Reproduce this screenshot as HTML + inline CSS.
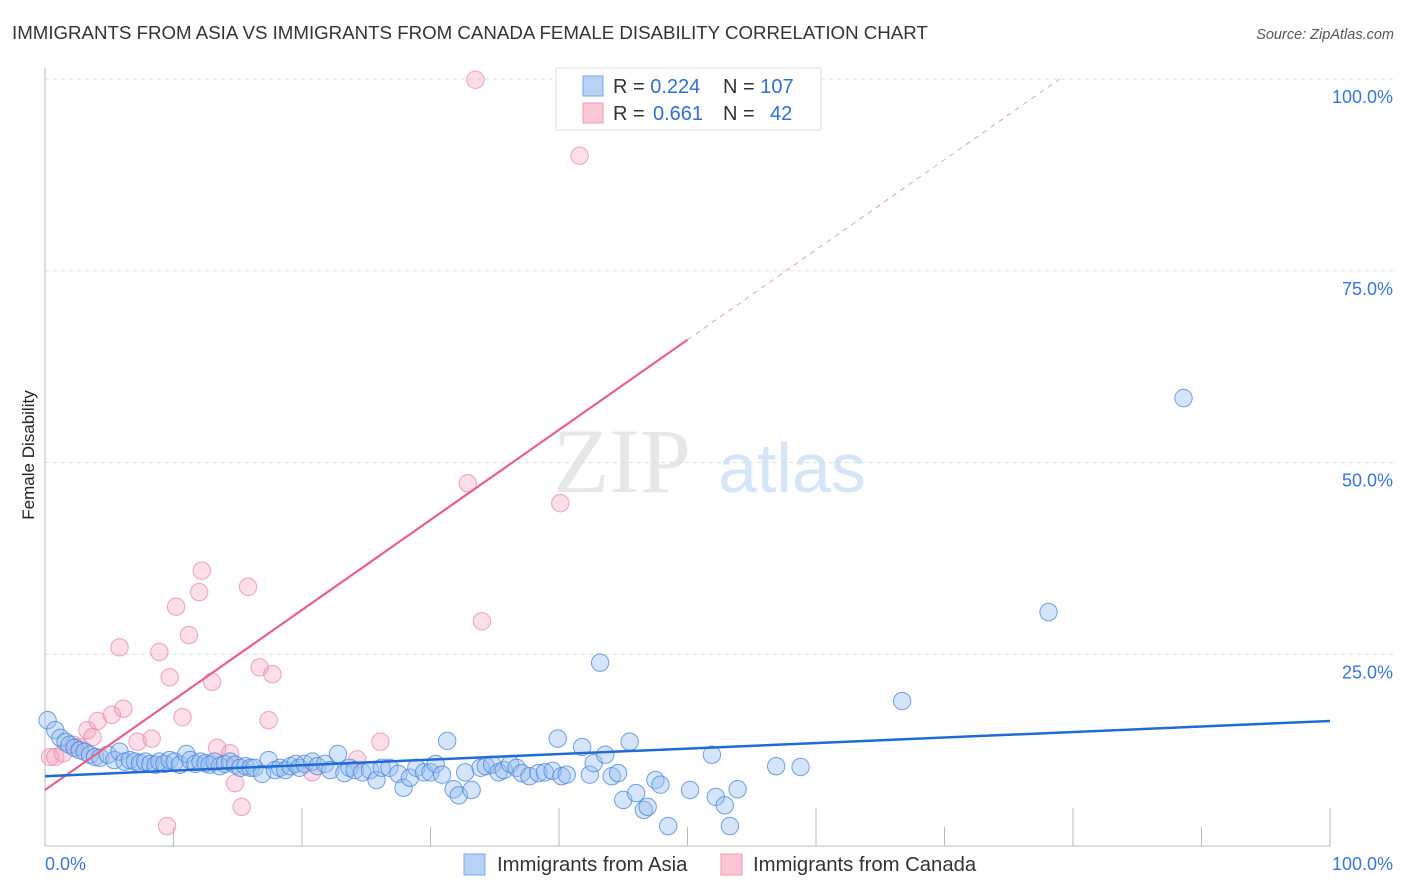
<!DOCTYPE html>
<html><head><meta charset="utf-8">
<style>
body{margin:0;background:#fff;font-family:"Liberation Sans",sans-serif;}
svg{display:block}
</style></head>
<body>
<svg id="chart" width="1406" height="892">
<text x="12" y="39" font-size="18.7" fill="#333">IMMIGRANTS FROM ASIA VS IMMIGRANTS FROM CANADA FEMALE DISABILITY CORRELATION CHART</text>
<text x="1394" y="39" font-size="14.5" fill="#555" font-style="italic" text-anchor="end">Source: ZipAtlas.com</text>
<text x="34" y="455" font-size="17" fill="#222" transform="rotate(-90 34 455)" text-anchor="middle">Female Disability</text>
<g>
<text x="553" y="492" font-size="92" font-family="Liberation Serif,serif" fill="#e6e6e6">ZIP</text>
<text x="718" y="492" font-size="70" fill="#d6e4f7">atlas</text>
</g>
<g id="grid"></g><g id="axes"></g><g id="marks"></g>
<g>
<rect x="556" y="68" width="265" height="62" fill="#fff" stroke="#ddd"/>
<rect x="583" y="76" width="20" height="20" fill="#b8d2f5" stroke="#7aa6e8"/>
<rect x="583" y="103" width="20" height="20" fill="#f9c6d4" stroke="#ec9ab1"/>
<text x="613" y="93" font-size="20" fill="#333">R = <tspan fill="#2f6fd6">0.224</tspan><tspan x="723">N = </tspan><tspan fill="#2f6fd6">107</tspan></text>
<text x="613" y="120" font-size="20" fill="#333">R = <tspan fill="#2f6fd6" x="653">0.661</tspan><tspan x="723">N = </tspan><tspan fill="#2f6fd6" x="770">42</tspan></text>
</g>
<g>
<rect x="464" y="854" width="21" height="21" fill="#b8d2f5" stroke="#7aa6e8"/>
<text x="497" y="871" font-size="20.3" fill="#333">Immigrants from Asia</text>
<rect x="721" y="854" width="21" height="21" fill="#f9c6d4" stroke="#ec9ab1"/>
<text x="753" y="871" font-size="20.3" fill="#333">Immigrants from Canada</text>
</g>
</svg>
<script>
const asiaX=[0.2,0.8,1.2,1.6,1.9,2.3,2.7,3.1,3.5,3.9,4.3,4.9,5.4,5.8,6.2,6.6,7.0,7.4,7.8,8.2,8.6,8.9,9.3,9.7,10.1,10.5,11.0,11.3,11.7,12.1,12.5,12.8,13.2,13.6,14.0,14.4,14.8,15.2,15.6,16.0,16.3,16.9,17.4,17.9,18.3,18.7,19.1,19.5,19.8,20.2,20.8,21.2,21.8,22.2,22.8,23.3,23.7,24.1,24.7,25.3,25.8,26.2,26.8,27.5,27.9,28.4,28.9,29.5,30.0,30.4,30.9,31.3,31.8,32.2,32.7,33.2,33.9,34.3,34.8,35.3,35.7,36.2,36.7,37.1,37.7,38.4,38.9,39.5,39.9,40.2,40.6,41.8,42.4,42.7,43.2,43.6,44.1,44.6,45.0,45.5,46.0,46.6,46.9,47.5,47.9,48.5,50.2,51.9,52.2,52.9,53.3,53.9,56.9,58.8,66.7,78.1,88.6];
const asiaY=[16.4,15.1,14.1,13.6,13.2,12.8,12.5,12.3,11.9,11.6,11.5,11.9,11.2,12.3,11.0,11.2,11.0,10.8,11.0,10.7,10.6,11.0,10.7,11.2,11.0,10.6,12.0,11.2,10.7,11.0,10.8,10.6,11.0,10.4,10.7,11.0,10.6,10.2,10.4,10.2,10.2,9.4,11.2,9.9,10.2,9.9,10.4,10.7,10.2,10.7,11.0,10.4,10.7,9.9,12.0,9.5,10.2,9.9,9.6,9.9,8.6,10.2,10.2,9.4,7.6,8.9,10.2,9.6,9.6,10.7,9.3,13.7,7.4,6.6,9.6,7.3,10.2,10.4,10.6,9.6,9.9,10.7,10.2,9.5,9.1,9.5,9.6,9.8,14.0,9.1,9.3,12.9,9.3,10.8,23.9,11.9,9.1,9.5,6.0,13.6,6.9,4.7,5.1,8.6,8.0,2.6,7.3,11.9,6.4,5.3,2.6,7.4,10.4,10.3,18.9,30.5,58.4];
const canX=[0.4,0.8,1.4,2.2,2.7,3.3,3.7,4.1,5.2,6.1,5.8,7.2,8.3,8.9,9.5,9.7,10.2,10.7,11.2,12.0,12.2,13.0,13.4,14.4,14.8,15.3,15.8,16.7,17.4,17.7,20.8,24.3,26.1,32.9,33.5,34.0,40.1,41.6];
const canY=[11.6,11.6,12.1,13.2,12.9,15.1,14.2,16.3,17.1,17.9,25.9,13.6,14.0,25.3,2.6,22.0,31.2,16.8,27.5,33.1,35.9,21.4,12.8,12.1,8.2,5.1,33.8,23.3,16.4,22.4,9.6,11.3,13.6,47.3,99.9,29.3,44.7,90.0];
const asiaTrend=[9.1,16.3];
const canTrend=[7.3,66.0];
const canTrendEndX=50;
const yTicks=[25,50,75,100];
const yTickLabels=["25.0%","50.0%","75.0%","100.0%"];

const NS="http://www.w3.org/2000/svg";
const sx=v=>45+v*12.85, sy=v=>846-v*7.67;
function mk(tag,attrs,parent){const e=document.createElementNS(NS,tag);for(const k in attrs)e.setAttribute(k,attrs[k]);parent.appendChild(e);return e;}
const grid=document.getElementById('grid'),axes=document.getElementById('axes'),marks=document.getElementById('marks');
yTicks.forEach((t,i)=>{
  const g=mk('line',{x1:45,x2:1393,y1:sy(t),y2:sy(t),stroke:'#ddd','stroke-dasharray':'4,4'},grid);
  
  
  const l=mk('text',{x:1393,y:sy(t)+24,'font-size':18,fill:'#3a75dd','text-anchor':'end'},axes);
  l.textContent=yTickLabels[i];
  
  
});
const ax=mk('line',{x1:45,x2:1330,y1:846,y2:846,stroke:'#bbb'},axes);


const ay=mk('line',{x1:45,x2:45,y1:68,y2:846,stroke:'#bbb'},axes);


for(let i=1;i<=10;i++){
  const t=mk('line',{x1:sx(i*10),x2:sx(i*10),y1:i%2?827:808,y2:846,stroke:'#bbb'},axes);
  
  
}
const x0=mk('text',{x:45,y:870,'font-size':18,fill:'#3a75dd'},axes);x0.textContent='0.0%';


const x1=mk('text',{x:1393,y:870,'font-size':18,fill:'#3a75dd','text-anchor':'end'},axes);x1.textContent='100.0%';



canX.forEach((x,i)=>{
  const c=mk('circle',{cx:sx(x),cy:sy(canY[i]),r:8.7,fill:'rgba(244,160,185,0.35)',stroke:'rgba(232,130,160,0.7)','stroke-width':1},marks);
  
  
});
asiaX.forEach((x,i)=>{
  const c=mk('circle',{cx:sx(x),cy:sy(asiaY[i]),r:8.7,fill:'rgba(150,190,240,0.4)',stroke:'rgba(70,130,220,0.75)','stroke-width':1},marks);
  
  
});
const slope=(canTrend[1]-canTrend[0])/canTrendEndX;
const xAt100=(100-canTrend[0])/slope;
const cd=mk('line',{x1:sx(canTrendEndX),y1:sy(canTrend[1]),x2:sx(xAt100),y2:sy(100),stroke:'#eaa0b5','stroke-width':1,'stroke-dasharray':'5,5'},marks);


const ct=mk('line',{x1:sx(0),y1:sy(canTrend[0]),x2:sx(canTrendEndX),y2:sy(canTrend[1]),stroke:'#e8608a','stroke-width':2.2},marks);


const at=mk('line',{x1:sx(0),y1:sy(asiaTrend[0]),x2:sx(100),y2:sy(asiaTrend[1]),stroke:'#1f6bd6','stroke-width':2.5},marks);


</script>
</body></html>
